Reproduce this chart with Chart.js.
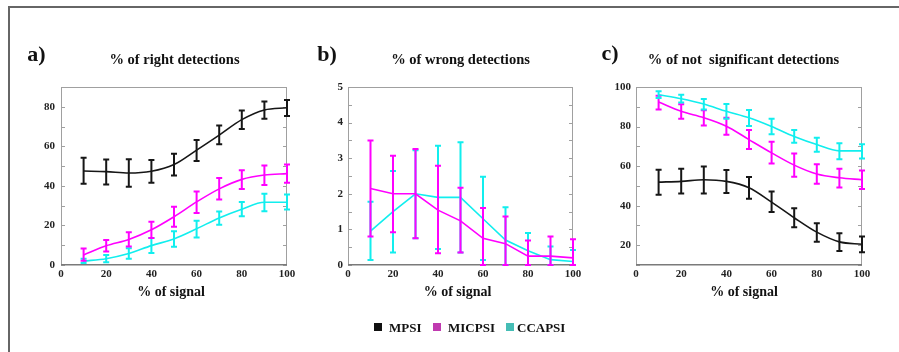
<!DOCTYPE html>
<html><head><meta charset="utf-8">
<script src="https://cdn.jsdelivr.net/npm/chart.js@4.4.1/dist/chart.umd.min.js"></script>
<style>
html,body{margin:0;padding:0;background:#fff;}
#wrap{position:relative;width:899px;height:352px;overflow:hidden;font-family:'Liberation Serif',serif;font-weight:bold;color:#111;}
.t{position:absolute;white-space:nowrap;line-height:1;transform:translate(-50%,-50%);}
.l{position:absolute;white-space:nowrap;line-height:1;transform:translateY(-50%);font-size:13px;}
.sq{position:absolute;width:8px;height:8px;}
canvas{position:absolute;top:0;}
#border{position:absolute;left:8px;top:6px;width:1000px;height:500px;border-left:2px solid #666;border-top:2px solid #666;}
</style></head><body>
<div id="wrap">
  <div id="border"></div>
  <canvas id="cA" width="305" height="352" style="left:0px"></canvas>
  <canvas id="cB" width="285" height="352" style="left:305px"></canvas>
  <canvas id="cC" width="309" height="352" style="left:590px"></canvas>

  <div class="t" style="left:36.5px;top:54px;font-size:22px;">a)</div>
  <div class="t" style="left:327px;top:54px;font-size:22px;">b)</div>
  <div class="t" style="left:610px;top:53px;font-size:22px;">c)</div>

  <div class="t" style="left:174.5px;top:59px;font-size:14.5px;">% of right detections</div>
  <div class="t" style="left:460.5px;top:59px;font-size:14.5px;">% of wrong detections</div>
  <div class="t" style="left:743.5px;top:59px;font-size:14.5px;">% of not&nbsp; significant detections</div>

  <div class="t" style="left:171px;top:292px;font-size:14px;">% of signal</div>
  <div class="t" style="left:457.5px;top:292px;font-size:14px;">% of signal</div>
  <div class="t" style="left:744px;top:292px;font-size:14px;">% of signal</div>

  <div class="sq" style="left:374px;top:323px;background:#111;"></div>
  <div class="l" style="left:389px;top:327px;">MPSI</div>
  <div class="sq" style="left:433px;top:323px;background:#c03ab0;"></div>
  <div class="l" style="left:448px;top:327px;">MICPSI</div>
  <div class="sq" style="left:506px;top:323px;background:#45bdb5;"></div>
  <div class="l" style="left:517px;top:327px;">CCAPSI</div>
</div>
<script>
// ---------- data ----------
const xValues = [10, 20, 30, 40, 50, 60, 70, 80, 90, 100];
const xTicks = [0, 20, 40, 60, 80, 100];

// panel a: % of right detections
const aTicksY = [0, 20, 40, 60, 80];
const aMPSI   = [47.5, 47.2, 46.5, 47.4, 50.8, 58.1, 65.7, 73.5, 78.4, 79.5];
const aMPSIlo = [41.1, 40.7, 39.6, 41.6, 45.2, 52.6, 61.0, 68.8, 73.9, 75.4];
const aMPSIhi = [54.2, 53.3, 53.5, 53.1, 56.2, 63.2, 70.5, 78.1, 82.7, 83.4];
const aMIC    = [5.1, 9.7, 12.9, 17.8, 24.4, 31.9, 38.5, 43.3, 45.5, 46.2];
const aMIClo  = [2.2, 6.8, 9.3, 13.6, 19.4, 26.3, 33.1, 38.4, 40.4, 41.6];
const aMIChi  = [8.3, 12.7, 16.5, 21.9, 29.4, 37.2, 44.0, 47.9, 50.3, 50.8];
const aCCA    = [2.0, 3.2, 5.8, 9.8, 13.2, 18.3, 23.8, 28.2, 31.7, 31.7];
const aCCAlo  = [1.0, 1.4, 3.2, 6.1, 9.2, 13.9, 20.4, 24.6, 27.2, 28.0];
const aCCAhi  = [3.2, 5.1, 8.5, 13.6, 17.1, 22.4, 27.0, 31.9, 36.0, 35.7];

// panel b: % of wrong detections
const bTicksY = [0, 1, 2, 3, 4, 5];
const bMIC    = [2.15, 2.0, 2.0, 1.54, 1.24, 0.75, 0.6, 0.25, 0.25, 0.2];
const bMIClo  = [0.8, 0.92, 0.75, 0.33, 0.35, 0.0, 0.0, 0.0, 0.0, 0.0];
const bMIChi  = [3.5, 3.07, 3.26, 2.79, 2.17, 1.6, 1.36, 0.69, 0.8, 0.72];
const bCCA    = [0.95, 1.5, 2.0, 1.9, 1.9, 1.3, 0.7, 0.4, 0.15, 0.1];
const bCCAlo  = [0.14, 0.35, 0.75, 0.45, 0.35, 0.14, 0.0, 0.0, 0.0, 0.0];
const bCCAhi  = [1.78, 2.64, 3.22, 3.35, 3.45, 2.48, 1.62, 0.9, 0.52, 0.42];

// panel c: % of not significant detections
const cTicksY = [20, 40, 60, 80, 100];
const cMPSI   = [51.9, 52.3, 53.1, 52.3, 49.1, 41.8, 33.9, 26.6, 21.7, 20.5];
const cMPSIlo = [45.5, 46.2, 46.2, 46.4, 43.5, 36.8, 29.1, 21.8, 17.1, 16.5];
const cMPSIhi = [58.2, 58.7, 59.8, 58.0, 54.5, 47.1, 38.7, 31.1, 26.1, 24.4];
const cMIC    = [92.4, 87.7, 84.5, 80.2, 73.4, 66.7, 60.5, 56.0, 54.1, 53.1];
const cMIClo  = [88.6, 84.0, 80.5, 75.8, 68.7, 61.3, 54.6, 51.1, 49.2, 48.4];
const cMIChi  = [95.6, 91.3, 88.2, 84.4, 78.2, 72.3, 66.4, 61.0, 58.7, 57.8];
const cCCA    = [96.1, 94.1, 91.4, 87.7, 84.4, 80.0, 75.0, 70.9, 67.7, 67.7];
const cCCAlo  = [94.5, 92.1, 88.6, 83.9, 80.3, 76.1, 71.8, 67.2, 63.5, 63.9];
const cCCAhi  = [97.8, 96.1, 93.9, 91.4, 88.4, 83.9, 78.3, 74.3, 71.6, 71.1];

const colMPSI = '#161616', colMIC = '#ff00ff', colCCA = '#11eeee';
const tickFont = {family: "'Liberation Serif', serif", weight: 'bold', size: 11};

// ---------- plugins ----------
const framePlugin = {
  id: 'frame',
  beforeDatasetsDraw(chart, args, opts) {
    const {ctx, chartArea: a} = chart;
    const ys = chart.scales.y;
    ctx.save();
    ctx.lineWidth = 1;
    ctx.strokeStyle = '#a0a0a0';
    ctx.beginPath();
    ctx.moveTo(a.left + 0.5, a.bottom);
    ctx.lineTo(a.left + 0.5, a.top + 0.5);
    ctx.lineTo(a.right - 0.5, a.top + 0.5);
    ctx.lineTo(a.right - 0.5, a.bottom);
    ctx.stroke();
    for (let v = opts.min; v <= opts.max + 1e-9; v += opts.step) {
      const y = Math.round(ys.getPixelForValue(v)) + 0.5;
      ctx.beginPath();
      ctx.moveTo(a.left, y); ctx.lineTo(a.left + 4, y);
      ctx.moveTo(a.right, y); ctx.lineTo(a.right - 4, y);
      ctx.stroke();
    }
    ctx.strokeStyle = '#7a7a7a';
    ctx.lineWidth = 1.5;
    ctx.beginPath();
    ctx.moveTo(a.left, a.bottom - 0.25);
    ctx.lineTo(a.right, a.bottom - 0.25);
    ctx.stroke();
    ctx.restore();
  }
};

const errorBarPlugin = {
  id: 'errbars',
  afterDatasetDraw(chart, args) {
    const ds = chart.data.datasets[args.index];
    if (!ds.lo) return;
    const {ctx} = chart;
    const xs = chart.scales.x, ys = chart.scales.y;
    ctx.save();
    ctx.strokeStyle = ds.borderColor;
    ctx.lineWidth = 2;
    const cap = 3;
    ds.data.forEach((p, i) => {
      const x = xs.getPixelForValue(p.x);
      const y1 = ys.getPixelForValue(ds.lo[i]);
      const y2 = ys.getPixelForValue(ds.hi[i]);
      ctx.beginPath();
      ctx.moveTo(x, y1); ctx.lineTo(x, y2);
      ctx.moveTo(x - cap, y1); ctx.lineTo(x + cap, y1);
      ctx.moveTo(x - cap, y2); ctx.lineTo(x + cap, y2);
      ctx.stroke();
    });
    ctx.restore();
  }
};

function series(label, color, vals, lo, hi, smooth) {
  return {
    label, borderColor: color, backgroundColor: color,
    data: xValues.map((x, i) => ({x, y: vals[i]})),
    lo, hi, borderWidth: 1.6, pointRadius: 0, fill: false,
    cubicInterpolationMode: smooth ? 'monotone' : 'default', tension: 0
  };
}

function makeChart(id, yWidth, padRight, yMin, yMax, yTicks, minorStep, datasets, yPad) {
  return new Chart(document.getElementById(id), {
    type: 'line',
    data: {datasets},
    plugins: [framePlugin, errorBarPlugin],
    options: {
      responsive: false, animation: false, devicePixelRatio: 1,
      layout: {padding: {left: 0, right: padRight, top: 87, bottom: 0}},
      plugins: {
        legend: {display: false}, tooltip: {enabled: false}, title: {display: false},
        frame: {min: yMin, max: yMax, step: minorStep}
      },
      scales: {
        x: {
          type: 'linear', min: 0, max: 100,
          grid: {display: false, drawTicks: false}, border: {display: false},
          afterBuildTicks: s => { s.ticks = xTicks.map(v => ({value: v})); },
          afterFit: s => { s.height = 87; s.paddingLeft = 0; s.paddingRight = 0; },
          ticks: {font: tickFont, color: '#222', padding: 3, maxRotation: 0, autoSkip: false}
        },
        y: {
          type: 'linear', min: yMin, max: yMax,
          grid: {display: false, drawTicks: false}, border: {display: false},
          afterBuildTicks: s => { s.ticks = yTicks.map(v => ({value: v})); },
          afterFit: s => { s.width = yWidth; s.paddingTop = 0; s.paddingBottom = 0; },
          ticks: {font: tickFont, color: '#222', padding: yPad, autoSkip: false}
        }
      }
    }
  });
}

makeChart('cA', 61, 18, 0, 90, aTicksY, 10, [
  series('MPSI', colMPSI, aMPSI, aMPSIlo, aMPSIhi, true),
  series('MICPSI', colMIC, aMIC, aMIClo, aMIChi, true),
  series('CCAPSI', colCCA, aCCA, aCCAlo, aCCAhi, true)
], 6);

makeChart('cB', 43, 17, 0, 5, bTicksY, 0.5, [
  series('MICPSI', colMIC, bMIC, bMIClo, bMIChi, false),
  series('CCAPSI', colCCA, bCCA, bCCAlo, bCCAhi, false)
], 5);

makeChart('cC', 46, 37, 10, 100, cTicksY, 10, [
  series('CCAPSI', colCCA, cCCA, cCCAlo, cCCAhi, true),
  series('MICPSI', colMIC, cMIC, cMIClo, cMIChi, true),
  series('MPSI', colMPSI, cMPSI, cMPSIlo, cMPSIhi, true)
], 5);
</script>
</body></html>
